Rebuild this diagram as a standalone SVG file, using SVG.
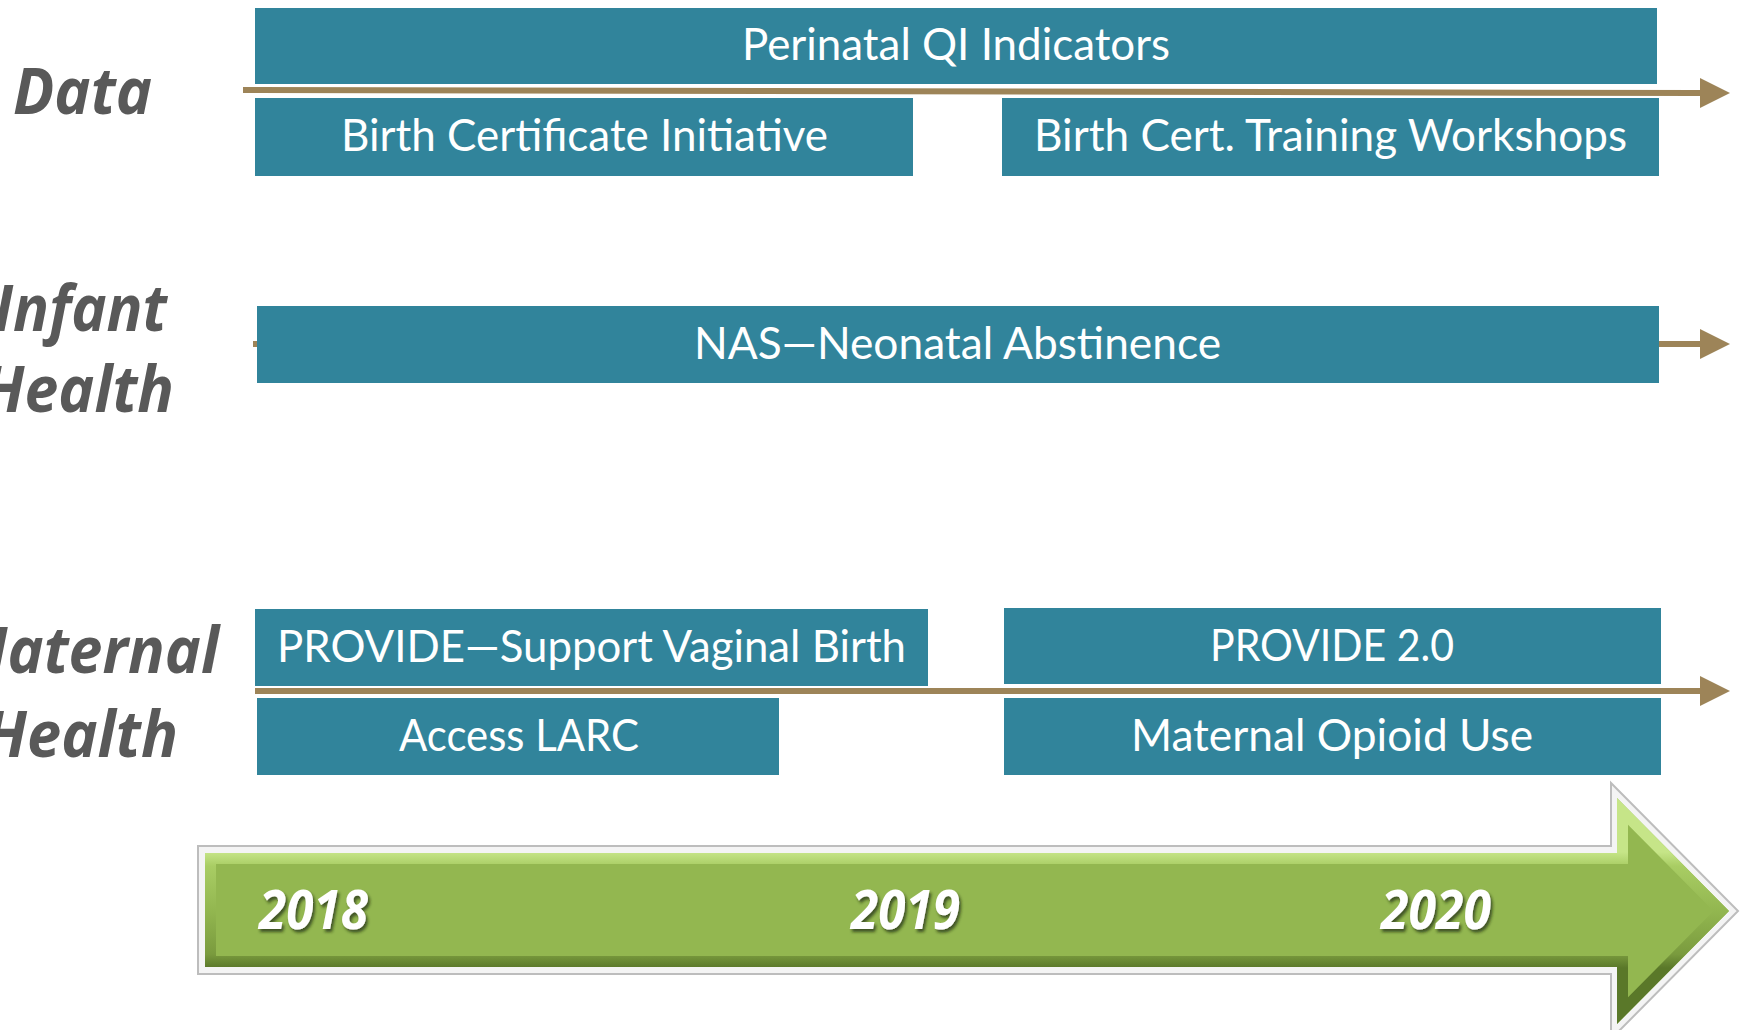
<svg xmlns="http://www.w3.org/2000/svg" width="1742" height="1030" viewBox="0 0 1742 1030">
<defs>
<style>
.box{fill:#31849B}
.bt{font-family:Lato,"Open Sans",sans-serif;font-size:44px;fill:#ffffff}
.lbl{font-family:"Open Sans",sans-serif;font-size:64px;font-weight:bold;font-style:italic;fill:#595959}
.yr{font-family:"Open Sans",sans-serif;font-size:54px;font-weight:bold;font-style:italic;fill:#ffffff}
.ln{stroke:#9D8458;stroke-width:6;fill:none}
</style>
<marker id="ah" markerUnits="userSpaceOnUse" markerWidth="30" markerHeight="30" refX="0" refY="15" orient="auto" viewBox="0 0 30 30"><path d="M0,0 L30,15 L0,30 Z" fill="#9D8458"/></marker>
<linearGradient id="bev" gradientUnits="userSpaceOnUse" x1="0" y1="852" x2="0" y2="968">
<stop offset="0" stop-color="#C6E588"/>
<stop offset="0.12" stop-color="#A9CD64"/>
<stop offset="0.5" stop-color="#93B750"/>
<stop offset="0.88" stop-color="#7A9B3E"/>
<stop offset="1" stop-color="#5A7829"/>
</linearGradient>
<clipPath id="ic"><polygon points="205,853 1617,853 1617,798 1729,911 1617,1024 1617,967 205,967"/></clipPath>
<filter id="sh" x="-20%" y="-20%" width="140%" height="160%"><feDropShadow dx="2" dy="3" stdDeviation="1.5" flood-color="#1e2a0a" flood-opacity="0.7"/></filter>
</defs>
<rect width="1742" height="1030" fill="#ffffff"/>

<g id="connectors">
<line class="ln" x1="243" y1="90" x2="1700" y2="93" marker-end="url(#ah)"/>
<line class="ln" x1="253" y1="344" x2="1700" y2="344" marker-end="url(#ah)"/>
<line class="ln" x1="255" y1="691" x2="1700" y2="691" marker-end="url(#ah)"/>
</g>

<g id="labels">
<text class="lbl" x="13" y="114" textLength="139" lengthAdjust="spacingAndGlyphs">Data</text>
<text class="lbl" x="-6" y="331" textLength="173" lengthAdjust="spacingAndGlyphs">Infant</text>
<text class="lbl" x="-18" y="412" textLength="192" lengthAdjust="spacingAndGlyphs">Health</text>
<text class="lbl" x="-46" y="673" textLength="265" lengthAdjust="spacingAndGlyphs">Maternal</text>
<text class="lbl" x="-16" y="757" textLength="194" lengthAdjust="spacingAndGlyphs">Health</text>
</g>

<g id="perinatal">
<rect class="box" x="255" y="8" width="1402" height="76"/>
<text class="bt" x="742" y="60" textLength="428" lengthAdjust="spacingAndGlyphs">Perinatal QI Indicators</text>
</g>
<g id="birth-cert">
<rect class="box" x="255" y="98" width="658" height="78"/>
<text class="bt" x="341" y="151" textLength="487" lengthAdjust="spacingAndGlyphs">Birth Certificate Initiative</text>
</g>
<g id="birth-cert-training">
<rect class="box" x="1002" y="98" width="657" height="78"/>
<text class="bt" x="1034" y="151" textLength="593" lengthAdjust="spacingAndGlyphs">Birth Cert. Training Workshops</text>
</g>
<g id="nas">
<rect class="box" x="257" y="306" width="1402" height="77"/>
<text class="bt" x="694" y="359" textLength="527" lengthAdjust="spacingAndGlyphs">NAS—Neonatal Abstinence</text>
</g>
<g id="provide">
<rect class="box" x="255" y="609" width="673" height="77"/>
<text class="bt" x="277" y="662" textLength="629" lengthAdjust="spacingAndGlyphs">PROVIDE—Support Vaginal Birth</text>
</g>
<g id="provide2">
<rect class="box" x="1004" y="608" width="657" height="76"/>
<text class="bt" x="1210" y="661" textLength="244" lengthAdjust="spacingAndGlyphs">PROVIDE 2.0</text>
</g>
<g id="larc">
<rect class="box" x="257" y="698" width="522" height="77"/>
<text class="bt" x="399" y="751" textLength="240" lengthAdjust="spacingAndGlyphs">Access LARC</text>
</g>
<g id="opioid">
<rect class="box" x="1004" y="698" width="657" height="77"/>
<text class="bt" x="1131" y="751" textLength="402" lengthAdjust="spacingAndGlyphs">Maternal Opioid Use</text>
</g>

<g id="timeline">
<polygon points="198,846 1611,846 1611,783 1738,911 1611,1039 1611,974 198,974" fill="#F4F4F4" stroke="#BDBDBD" stroke-width="2"/>
<polygon points="205,853 1617,853 1617,798 1729,911 1617,1024 1617,967 205,967" fill="#93B750"/>
<polygon points="205,853 1617,853 1617,798 1729,911 1617,1024 1617,967 205,967" fill="none" stroke="url(#bev)" stroke-width="22" clip-path="url(#ic)"/>
<text class="yr" x="259" y="929" textLength="109" lengthAdjust="spacingAndGlyphs" filter="url(#sh)">2018</text>
<text class="yr" x="851" y="929" textLength="109" lengthAdjust="spacingAndGlyphs" filter="url(#sh)">2019</text>
<text class="yr" x="1381" y="929" textLength="110" lengthAdjust="spacingAndGlyphs" filter="url(#sh)">2020</text>
</g>
</svg>
